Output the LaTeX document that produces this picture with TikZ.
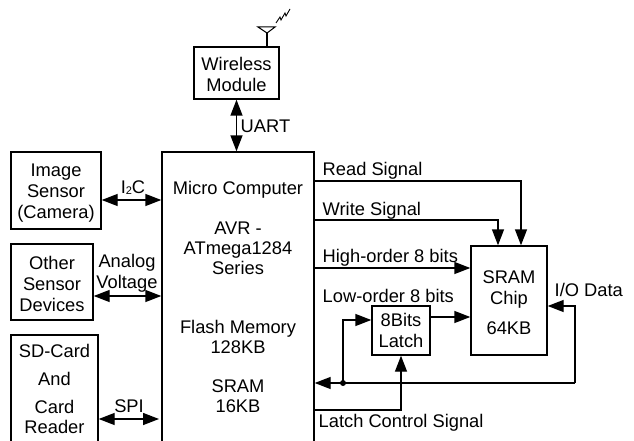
\documentclass[tikz,border=0pt]{standalone}
\usepackage{fontspec}
\setmainfont{Liberation Sans}
\usepackage{tikz}
\usetikzlibrary{arrows.meta}

\tikzset{
    blockbox/.style={draw,inner sep=0pt,align=center},
    boxtext/.style={inner sep=0pt,align=center},
    tagtext/.style={inner sep=0pt,anchor=west,align=left},
    oneway/.style={-{Triangle[length=16pt,width=12pt]}},
    bothway/.style={{Triangle[length=16pt,width=12pt]}-{Triangle[length=16pt,width=12pt]}},
}

\begin{document}
\begin{tikzpicture}[x=1pt,y=-1pt,line width=1.4pt,font=\fontsize{18.3}{21}\selectfont]

\useasboundingbox (0,0) rectangle (634,441);
\clip (0,0) rectangle (634,441);

% Blocks
\node[blockbox,minimum width=85pt,minimum height=52pt] (wireless) at (236.5,73) {};
\node[blockbox,minimum width=152pt,minimum height=330pt] (main) at (238,317) {};
\node[blockbox,minimum width=90pt,minimum height=77pt] (image) at (56,190.5) {};
\node[blockbox,minimum width=82pt,minimum height=76pt] (other) at (52,282) {};
\node[blockbox,minimum width=87pt,minimum height=140pt] (card) at (54.5,405) {};
\node[blockbox,minimum width=76pt,minimum height=109pt] (sram) at (509,300.5) {};
\node[blockbox,minimum width=58pt,minimum height=49pt] (latch) at (401,330.5) {8Bits\\Latch};

% Text inside the blocks
\node[boxtext] (wirelesstext) at ([yshift=-1.5pt]wireless.center) {Wireless\\Module};
\node[boxtext] (imagetext) at ([yshift=-2.5pt]image.center) {Image\\Sensor\\(Camera)};
\node[boxtext] (othertext) at ([yshift=-1.5pt]other.center) {Other\\Sensor\\Devices};
\node[boxtext] (sramtext) at ([yshift=-2.5pt]sram.center) {SRAM\\Chip\\[9pt]64KB};
\node[boxtext,anchor=north,font=\fontsize{18.3}{20}\selectfont] (maintext) at (238,181)
    {Micro Computer\\[20pt]AVR -\\ATmega1284\\Series\\[39pt]Flash Memory\\128KB\\[19pt]SRAM\\16KB};
\node[boxtext,anchor=north,font=\fontsize{18.3}{20}\selectfont] (cardtext) at (54.5,344)
    {SD-Card\\[8pt]And\\[8pt]Card\\Reader};

% Antenna
\coordinate (mast) at (267,33);
\draw (wireless.north -| mast) -- (mast);
\draw[line width=1pt] (mast) -- (258,27) -- (275,27) -- cycle;
\draw[line width=0.9pt] (276,23) -- (280,17) -- (281,20) -- (285,13) -- (286,16) -- (290,9);

% Left side links
\draw[bothway] (wireless.south) -- (wireless.south |- main.north);
\draw[bothway] (image.east |- 0,200) -- (main.west |- 0,200);
\draw[bothway] (other.east |- 0,296) -- (main.west |- 0,296);
\coordinate (spiend) at (159,419);
\draw[bothway] (card.east |- spiend) -- (spiend);

% Control lines to the SRAM
\coordinate (readpin) at (521,181);
\coordinate (writepin) at (498,220);
\draw[oneway] (main.east |- readpin) -- (readpin) -- (readpin |- sram.north);
\draw[oneway] (main.east |- writepin) -- (writepin) -- (writepin |- sram.north);
\draw[oneway] (main.east |- 0,268) -- (sram.west |- 0,268);
\draw[oneway] (latch.east |- 0,317) -- (sram.west |- 0,317);

% Data bus
\coordinate (busright) at (575,383);
\coordinate (busdot) at (343,383);
\draw[oneway] (busright) -- (busright |- 0,306) -- (sram.east |- 0,306);
\draw[oneway] (busright) -- (main.east |- busright);
\draw[oneway] (busdot) -- (busdot |- 0,320) -- (latch.west |- 0,320);
\fill (busdot) circle (3pt);

% Latch control
\coordinate (latchturn) at (latch.south |- 0,410);
\draw[oneway] (main.east |- latchturn) -- (latchturn) -- (latch.south);

% Labels
\node[tagtext] (uart) at (240,126) {UART};
\node[inner sep=0pt] (i2c) at (133,188) {I\raisebox{-1pt}{\fontsize{11}{11}\selectfont 2}C};
\node[boxtext] (analog) at (127,273) {Analog\\Voltage};
\node[inner sep=0pt] (spi) at (129,406) {SPI};
\node[tagtext] (read) at (322,171) {Read Signal};
\node[tagtext] (write) at (322,211) {Write Signal};
\node[tagtext] (high) at (322,258) {High-order 8 bits};
\node[tagtext] (low) at (322,296) {Low-order 8 bits};
\node[tagtext] (iodata) at (554,290) {I/O Data};
\node[tagtext] (control) at (318,423) {Latch Control Signal};
\end{tikzpicture}
\end{document}
